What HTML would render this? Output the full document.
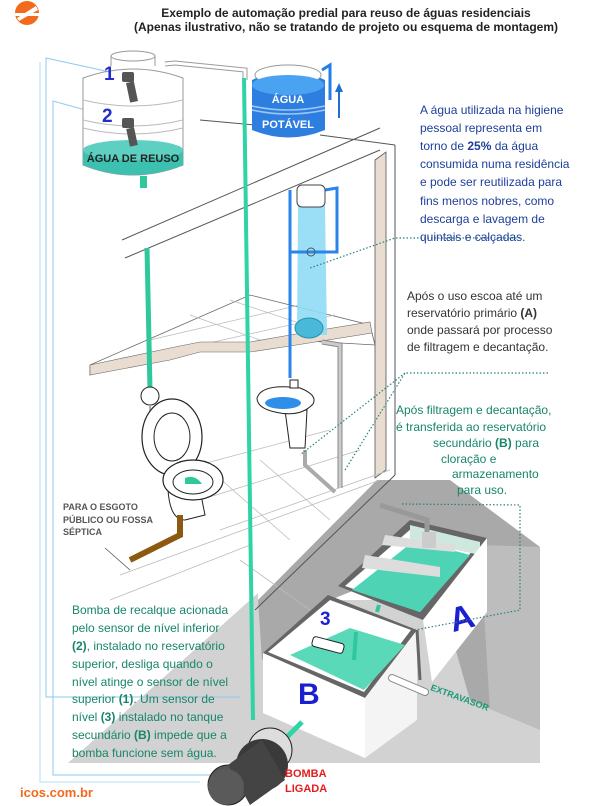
<!DOCTYPE html>
<html><head><meta charset="utf-8"><style>
html,body{margin:0;padding:0;background:#fff;}
svg{display:block;font-family:"Liberation Sans",sans-serif;}
</style></head><body>
<svg width="600" height="806" viewBox="0 0 600 806" xmlns="http://www.w3.org/2000/svg">
<!-- gray ground -->
<polygon points="68,763 258,593 258,600 540,600 540,763" fill="#d2d2d2"/>
<polygon points="258,600 377,480 450,480 540,547 540,730 470,700 430,560 330,600 262,660" fill="#a9a9a9"/>
<polygon points="480,545 540,547 540,730 490,712" fill="#bdbdbd"/>
<polygon points="420,680 540,730 540,763 300,763" fill="#d2d2d2"/>
<!-- frame lines -->
<polyline points="110,72 46,58 46,697 240,697" fill="none" stroke="#8ec8f0" stroke-width="1"/>
<polyline points="107,116 53,101 53,775 255,775" fill="none" stroke="#8ec8f0" stroke-width="1"/>
<polyline points="40,62 40,782 200,782" fill="none" stroke="#b6dcf6" stroke-width="1"/>
<!-- building lines -->
<line x1="200" y1="120" x2="255" y2="125" stroke="#555"/>
<line x1="320" y1="135" x2="395" y2="145" stroke="#555"/>
<line x1="395" y1="145" x2="395" y2="475" stroke="#555"/>
<line x1="122" y1="240" x2="380" y2="128" stroke="#555"/>
<line x1="125" y1="258" x2="380" y2="150" stroke="#555"/>
<polygon points="375,160 386,152 386,470 375,478" fill="#e8ddd0" stroke="#555" stroke-width="0.8"/>
<!-- floor slab -->
<polygon points="90,365 250,295 370,325 375,345 290,340 250,347 200,345 170,352 90,375" fill="#fff" stroke="#666" stroke-width="0.8"/>
<g stroke="#bbb" stroke-width="0.7">
<line x1="150" y1="340" x2="300" y2="305"/><line x1="200" y1="345" x2="335" y2="315"/>
<line x1="190" y1="315" x2="260" y2="340"/><line x1="230" y1="300" x2="320" y2="330"/>
</g>
<polygon points="90,365 170,348 200,342 250,342 290,335 370,322 372,333 290,346 250,352 200,352 170,360 90,375" fill="#e8ddd0" stroke="#666" stroke-width="0.6"/>
<!-- lower floor tiles -->
<g stroke="#bbb" stroke-width="0.8">
<line x1="180" y1="470" x2="330" y2="430"/><line x1="200" y1="500" x2="360" y2="450"/>
<line x1="220" y1="530" x2="390" y2="470"/><line x1="120" y1="575" x2="380" y2="480"/>
<line x1="110" y1="600" x2="250" y2="545"/><line x1="240" y1="560" x2="310" y2="610"/>
<line x1="260" y1="460" x2="330" y2="520"/><line x1="210" y1="470" x2="290" y2="540"/>
</g>
<line x1="255" y1="610" x2="395" y2="475" stroke="#555"/>
<!-- reuse tank -->
<rect x="140" y="176" width="7" height="12" fill="#2fc79c"/>
<path d="M83,78 Q133,60 183,78 L183,165 Q133,185 83,165 Z" fill="#fff" stroke="#999"/>
<ellipse cx="133" cy="56" rx="22" ry="5" fill="#fff" stroke="#999"/>
<path d="M111,56 L111,66 M155,56 L155,66" stroke="#999"/>
<path d="M83,100 Q133,112 183,100 M83,120 Q133,132 183,120 M83,128 Q133,140 183,128" stroke="#bbb" fill="none"/>
<path d="M83,150 Q133,138 183,150 L183,165 Q133,185 83,165 Z" fill="#3cc0b0"/>
<ellipse cx="133" cy="150" rx="50" ry="10" fill="#5ed0c2"/>
<text x="133" y="162" font-size="11" font-weight="bold" text-anchor="middle" fill="#222">ÁGUA DE REUSO</text>
<g fill="#555"><rect x="122" y="72" width="12" height="10" rx="2"/><rect x="128" y="82" width="8" height="20" transform="rotate(-12 132 92)"/>
<rect x="122" y="118" width="12" height="10" rx="2"/><rect x="128" y="128" width="8" height="18" transform="rotate(-12 132 137)"/></g>
<text x="104" y="80" font-size="19" font-weight="bold" fill="#1f2fc8">1</text>
<text x="102" y="122" font-size="19" font-weight="bold" fill="#1f2fc8">2</text>
<!-- top pipe -->
<polyline points="165,64 175,63 245,70 245,80" fill="none" stroke="#999" stroke-width="5"/>
<polyline points="165,64 175,63 245,70 245,80" fill="none" stroke="#fff" stroke-width="3"/>
<!-- main teal pipe -->
<line x1="244" y1="78" x2="253" y2="720" stroke="#2fd3a5" stroke-width="4"/>
<line x1="147" y1="248" x2="150" y2="390" stroke="#2fc79c" stroke-width="5"/>
<!-- potable tank -->
<path d="M252,80 Q288,62 325,80 L325,130 Q288,145 252,130 Z" fill="#2e7ee0"/>
<ellipse cx="288" cy="75" rx="33" ry="10" fill="#fff" stroke="#999"/>
<ellipse cx="288" cy="85" rx="36" ry="10" fill="#4aa3f0"/>
<path d="M252,106 Q288,114 325,106 M252,110 Q288,118 325,110" stroke="#9cc8f5" stroke-width="1.5" fill="none"/>
<text x="288" y="103" font-size="11" font-weight="bold" text-anchor="middle" fill="#fff">ÁGUA</text>
<text x="288" y="128" font-size="11" font-weight="bold" text-anchor="middle" fill="#fff">POTÁVEL</text>
<polyline points="322,70 330,65 330,100" fill="none" stroke="#1f7ee8" stroke-width="3"/>
<line x1="339" y1="118" x2="339" y2="90" stroke="#1f6fd0" stroke-width="2"/>
<polygon points="335,92 339,83 343,92" fill="#1f6fd0"/>
<!-- shower -->
<polygon points="298,205 325,205 327,335 297,335" fill="#8fdcf5" opacity="0.9"/>
<polyline points="290,190 290,378" stroke="#2b84e8" stroke-width="3" fill="none"/>
<polyline points="325,190 337,188 337,252 290,252" stroke="#2b84e8" stroke-width="3" fill="none"/>
<rect x="297" y="185" width="28" height="22" rx="5" fill="#fff" stroke="#444"/>
<circle cx="311" cy="252" r="4" fill="none" stroke="#555"/>
<ellipse cx="309" cy="328" rx="14" ry="10" fill="#4ab8d8" stroke="#2a90b0"/>
<!-- gray drain -->
<polyline points="322,342 340,345 340,488" fill="none" stroke="#888" stroke-width="5"/>
<polyline points="322,342 340,345 340,488" fill="none" stroke="#ccc" stroke-width="3"/>
<polyline points="305,450 305,465 335,492" fill="none" stroke="#aaa" stroke-width="4"/>
<!-- sink -->
<path d="M290,448 L285,410 L307,410 L305,448 Z" fill="#fff" stroke="#222"/>
<path d="M257,398 Q262,383 300,388 Q318,395 313,404 Q300,418 275,412 Q257,408 257,398 Z" fill="#fff" stroke="#222"/>
<ellipse cx="283" cy="403" rx="18" ry="6" fill="#2e8ee8"/>
<rect x="290" y="380" width="8" height="8" fill="#fff" stroke="#222"/>
<!-- toilet -->
<circle cx="150" cy="396" r="9" fill="#fff" stroke="#222"/>
<line x1="150" y1="405" x2="152" y2="460" stroke="#aaa" stroke-width="2"/>
<ellipse cx="172" cy="437" rx="30" ry="38" fill="#fff" stroke="#222" stroke-width="1.2"/>
<ellipse cx="172" cy="437" rx="18" ry="24" fill="none" stroke="#222"/>
<path d="M168,490 Q170,520 185,520 L205,515 L200,490 Z" fill="#fff" stroke="#222"/>
<ellipse cx="193" cy="480" rx="30" ry="20" fill="#fff" stroke="#222" stroke-width="1.2"/>
<ellipse cx="193" cy="482" rx="20" ry="12" fill="none" stroke="#222"/>
<path d="M185,478 Q195,474 202,484 L185,484 Z" fill="#2fc79c"/>
<polyline points="180,515 180,535 130,560" fill="none" stroke="#8b5a10" stroke-width="6"/>
<line x1="105" y1="548" x2="130" y2="570" stroke="#555" stroke-width="0.8"/>
<!-- tanks -->
<polygon points="338,586 410,520 487,538 423,620" fill="#666"/>
<polygon points="345,586 412,528 480,542 420,612" fill="#fff"/>
<polygon points="352,590 415,540 470,555 420,612" fill="#4fd3b5"/>
<polygon points="410,525 480,542 480,555 410,540" fill="#cfe8de"/>
<polygon points="365,555 440,567 440,577 362,568" fill="#ddd"/>
<polygon points="385,535 455,545 455,552 382,545" fill="#ddd"/>
<polygon points="423,620 487,538 487,612 432,682" fill="#fff"/>
<text x="450" y="630" font-size="34" font-weight="bold" fill="#1b1fd0" transform="rotate(-15 460 620)">A</text>
<polyline points="380,505 427,520 427,535" fill="none" stroke="#999" stroke-width="5"/>
<rect x="422" y="532" width="14" height="16" fill="#ccc"/>
<polygon points="263,653 328,595 417,630 365,698" fill="#666"/>
<polygon points="268,652 330,600 411,630 364,692" fill="#fff"/>
<polygon points="290,655 350,628 405,645 364,690" fill="#5ad9b9"/>
<polygon points="263,653 365,698 365,758 263,713" fill="#fff"/>
<polygon points="365,698 417,630 417,720 365,758" fill="#f4f4f4"/>
<line x1="417" y1="630" x2="420" y2="680" stroke="#666" stroke-width="3"/>
<text x="320" y="625" font-size="19" font-weight="bold" fill="#1b1fd0">3</text>
<rect x="312" y="640" width="32" height="10" rx="3" fill="#fff" stroke="#222" transform="rotate(15 328 645)"/>
<line x1="356" y1="632" x2="354" y2="660" stroke="#2fc79c" stroke-width="4"/>
<line x1="377" y1="612" x2="379" y2="605" stroke="#2fc79c" stroke-width="4"/>
<text x="298" y="704" font-size="30" font-weight="bold" fill="#1b1fd0">B</text>
<line x1="392" y1="678" x2="425" y2="692" stroke="#888" stroke-width="8" stroke-linecap="round"/>
<line x1="392" y1="678" x2="425" y2="692" stroke="#fff" stroke-width="6" stroke-linecap="round"/>
<text x="430" y="690" font-size="9" font-weight="bold" fill="#199a76" transform="rotate(20 430 690)">EXTRAVASOR</text>
<!-- pump -->
<line x1="282" y1="742" x2="302" y2="722" stroke="#2fd3a5" stroke-width="5"/>
<circle cx="270" cy="750" r="22" fill="#ddd" stroke="#222"/>
<circle cx="262" cy="765" r="26" fill="#3a3a3a"/>
<circle cx="228" cy="785" r="20" fill="#555" stroke="#222"/>
<polygon points="228,765 262,740 285,780 250,805" fill="#444"/>
<circle cx="226" cy="787" r="18" fill="#5a5a5a"/>
<text x="285" y="777" font-size="11" font-weight="bold" fill="#e41e1e">BOMBA</text>
<text x="285" y="792" font-size="11" font-weight="bold" fill="#e41e1e">LIGADA</text>
<!-- dotted leaders -->
<g stroke="#2a7f80" stroke-width="1.2" stroke-dasharray="1.5,2" fill="none">
<polyline points="520,238 395,238 310,268"/>
<polyline points="548,373 405,373 345,470"/>
<polyline points="405,373 300,455"/>
<polyline points="402,504 520,505 520,610 415,630"/>
</g>
<!-- logo -->
<circle cx="27" cy="13" r="12" fill="#f26a1b"/>
<path d="M17,18 L36,6 L38,10 L19,21 Z" fill="#fff"/>
<rect x="15" y="13" width="25" height="3" fill="#fff"/>
<!-- titles -->
<text x="346" y="17" font-size="12" font-weight="bold" text-anchor="middle" fill="#222">Exemplo de automação predial para reuso de águas residenciais</text>
<text x="346" y="31" font-size="12" font-weight="bold" text-anchor="middle" fill="#222">(Apenas ilustrativo, não se tratando de projeto ou esquema de montagem)</text>
<g font-size="12" fill="#1d3f9a">
<text x="420" y="114">A água utilizada na higiene</text>
<text x="420" y="132">pessoal representa em</text>
<text x="420" y="150">torno de <tspan font-weight="bold">25%</tspan> da água</text>
<text x="420" y="168">consumida numa residência</text>
<text x="420" y="186">e pode ser reutilizada para</text>
<text x="420" y="205">fins menos nobres, como</text>
<text x="420" y="223">descarga e lavagem de</text>
<text x="420" y="241">quintais e calçadas.</text>
</g>
<g font-size="12" fill="#333">
<text x="407" y="300">Após o uso escoa até um</text>
<text x="407" y="317">reservatório primário <tspan font-weight="bold">(A)</tspan></text>
<text x="407" y="334">onde passará por processo</text>
<text x="407" y="351">de filtragem e decantação.</text>
</g>
<g font-size="12" fill="#17866a">
<text x="396" y="414">Após filtragem e decantação,</text>
<text x="396" y="431">é transferida ao reservatório</text>
<text x="433" y="447">secundário <tspan font-weight="bold">(B)</tspan> para</text>
<text x="441" y="463">cloração e</text>
<text x="452" y="478">armazenamento</text>
<text x="457" y="494">para uso.</text>
</g>
<g font-size="9" font-weight="bold" fill="#555">
<text x="63" y="510">PARA O ESGOTO</text>
<text x="63" y="523">PÚBLICO OU FOSSA</text>
<text x="63" y="535">SÉPTICA</text>
</g>
<g font-size="12" fill="#17866a">
<text x="72" y="614">Bomba de recalque acionada</text>
<text x="72" y="632">pelo sensor de nível inferior</text>
<text x="72" y="650"><tspan font-weight="bold">(2)</tspan>, instalado no reservatório</text>
<text x="72" y="668">superior, desliga quando o</text>
<text x="72" y="686">nível atinge o sensor de nível</text>
<text x="72" y="703">superior <tspan font-weight="bold">(1)</tspan>. Um sensor de</text>
<text x="72" y="721">nível <tspan font-weight="bold">(3)</tspan> instalado no tanque</text>
<text x="72" y="739">secundário <tspan font-weight="bold">(B)</tspan> impede que a</text>
<text x="72" y="757">bomba funcione sem água.</text>
</g>
<text x="20" y="797" font-size="13" font-weight="bold" fill="#f26a1b">icos.com.br</text>
</svg>
</body></html>
